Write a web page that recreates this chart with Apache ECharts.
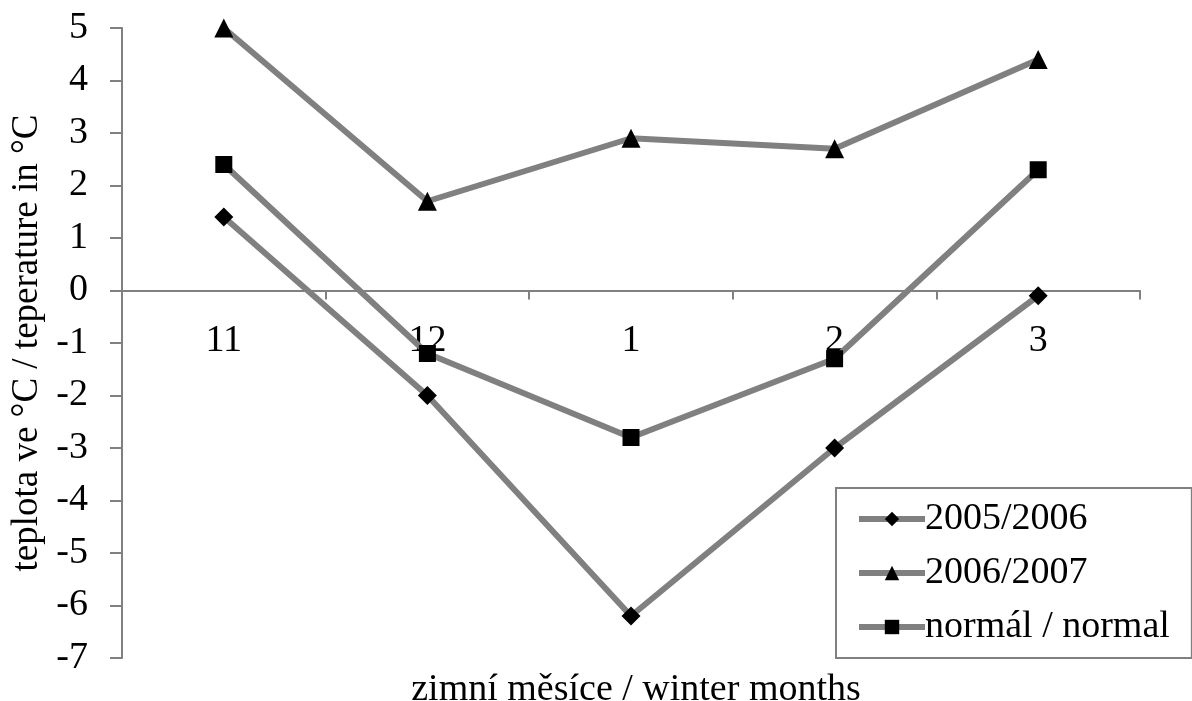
<!DOCTYPE html>
<html>
	<head>
		<meta charset="utf-8">
		<title>teplota - zimní měsíce</title>
		<script src="https://cdn.jsdelivr.net/npm/echarts@6/dist/echarts.min.js"></script>
		<style>
			html, body { margin: 0; padding: 0; background: #fff; }
			#chart { width: 1192px; height: 701px; }
		</style>
	</head>
	<body>
		<div id="chart"></div>
		<script>
			// data
			var months = ['11', '12', '1', '2', '3'];
			var y2005 = [1.4, -2, -6.2, -3, -0.1];
			var y2006 = [5, 1.7, 2.9, 2.7, 4.4];
			var normal = [2.4, -1.2, -2.8, -1.3, 2.3];
			var seriesNames = ['2005/2006', '2006/2007', 'normál / normal'];

			var font = 'Liberation Serif';
			var grey = '#808080';

			var myChart = echarts.init(document.getElementById('chart'));

			function line(name, data, symbol, size) {
				return {
					name: name,
					type: 'line',
					data: data,
					symbol: symbol,
					symbolSize: size,
					lineStyle: { color: grey, width: 6 },
					itemStyle: { color: '#000' },
					animation: false
				};
			}

			// x axis sits on the zero line: 658 - (28 + 5 * 52.5)
			var zeroOffset = -367.5;

			var option = {
				backgroundColor: '#fff',
				title: {
					text: 'zimní měsíce / winter months',
					left: 631,
					textAlign: 'center',
					top: 666,
					textStyle: { fontFamily: font, fontSize: 38, fontWeight: 'normal', color: '#000' }
				},
				grid: { left: 122, right: 52, top: 28, bottom: 43, containLabel: false, outerBoundsMode: 'none' },
				legend: {
					orient: 'vertical',
					left: 836,
					top: 488,
					padding: [12, 22, 12, 20],
					borderColor: grey,
					borderWidth: 2,
					itemWidth: 66,
					itemHeight: 18,
					itemGap: 16,
					lineStyle: { color: grey, width: 6 },
					textStyle: { fontFamily: font, fontSize: 38, color: '#000', padding: [0, 0, 0, -5] },
					data: seriesNames
				},
				xAxis: {
					type: 'category',
					data: months,
					boundaryGap: true,
					offset: zeroOffset,
					axisLine: { onZero: false, lineStyle: { color: grey, width: 2 } },
					axisTick: { show: true, length: 9, lineStyle: { color: grey, width: 2 } },
					axisLabel: { margin: 32, fontFamily: font, fontSize: 38, color: '#000' },
					splitLine: { show: false }
				},
				yAxis: {
					type: 'value',
					min: -7,
					max: 5,
					interval: 1,
					name: 'teplota ve °C / teperature in °C',
					nameLocation: 'middle',
					nameGap: 58,
					nameTextStyle: { fontFamily: font, fontSize: 37, color: '#000' },
					axisLine: { show: true, lineStyle: { color: grey, width: 2 } },
					axisTick: { show: true, length: 12, lineStyle: { color: grey, width: 2 } },
					axisLabel: { margin: 34, fontFamily: font, fontSize: 38, color: '#000' },
					splitLine: { show: false }
				},
				series: [
					line(seriesNames[0], y2005, 'diamond', 19),
					line(seriesNames[1], y2006, 'triangle', 19),
					line(seriesNames[2], normal, 'rect', 17)
				]
			};
			myChart.setOption(option);
		</script>
	</body>
</html>
